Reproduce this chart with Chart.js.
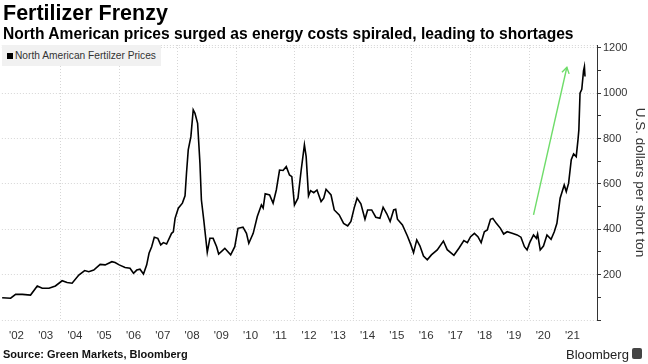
<!DOCTYPE html>
<html>
<head>
<meta charset="utf-8">
<script src="https://cdn.jsdelivr.net/npm/chart.js@4/dist/chart.umd.min.js"></script>
<style>
  body { margin: 0; background: #fff; }
  #wrap { position: relative; width: 648px; height: 364px; overflow: hidden;
          font-family: "Liberation Sans", Arial, sans-serif; color: #000; }
  #chart { position: absolute; left: 0; top: 0; }
  .txt { position: absolute; line-height: 1; white-space: nowrap; }
  .title { left: 3px; top: 3px; font-size: 21.5px; font-weight: bold; }
  .sub { left: 3px; top: 26px; font-size: 15.6px; font-weight: bold; }
  .source { left: 3px; top: 349px; font-size: 11px; font-weight: bold; color: #111; }
  .brand { left: 566px; top: 348px; font-size: 13px; color: #222; }
  .logo { position: absolute; left: 632px; top: 348px; width: 10px; height: 11px;
          background: #444; border-radius: 2px; }
  .legend { position: absolute; left: 2px; top: 45px; height: 21px; padding: 0 5px 0 5px;
            background: #f1f1f1; font-size: 10.2px; color: #333; line-height: 21px; }
  .legend i { display: inline-block; width: 6px; height: 6px; background: #000;
              margin-right: 2px; vertical-align: 0px; }
</style>
</head>
<body>
<div id="wrap">
  <canvas id="chart" width="648" height="364"></canvas>
  <div class="txt title">Fertilizer Frenzy</div>
  <div class="txt sub">North American prices surged as energy costs spiraled, leading to shortages</div>
  <div class="legend"><i></i>North American Fertilzer Prices</div>
  <div class="txt source">Source: Green Markets, Bloomberg</div>
  <div class="txt brand">Bloomberg</div>
  <div class="logo"></div>
</div>
<script>
// dates as decimal years, prices in U.S. dollars per short ton
const years = [
  2002.01, 2002.30, 2002.47, 2002.70, 2002.98, 2003.21, 2003.38, 2003.61, 2003.83, 2004.06,
  2004.23, 2004.40, 2004.63, 2004.83, 2004.97, 2005.14, 2005.36, 2005.53, 2005.76, 2005.87,
  2006.01, 2006.21, 2006.38, 2006.50, 2006.61, 2006.72, 2006.84, 2006.95, 2007.03, 2007.12,
  2007.21, 2007.33, 2007.43, 2007.52, 2007.63, 2007.80, 2007.86, 2007.92, 2008.03, 2008.17,
  2008.26, 2008.31, 2008.37, 2008.46, 2008.54, 2008.60, 2008.69, 2008.77, 2008.82, 2008.90,
  2009.02, 2009.11, 2009.22, 2009.34, 2009.41, 2009.62, 2009.82, 2009.96, 2010.07, 2010.24,
  2010.36, 2010.44, 2010.59, 2010.73, 2010.87, 2010.93, 2011.00, 2011.15, 2011.27, 2011.38,
  2011.49, 2011.61, 2011.72, 2011.83, 2011.91, 2012.00, 2012.12, 2012.23, 2012.34, 2012.40,
  2012.48, 2012.55, 2012.66, 2012.77, 2012.91, 2013.00, 2013.08, 2013.25, 2013.36, 2013.53,
  2013.68, 2013.82, 2013.93, 2014.04, 2014.14, 2014.27, 2014.41, 2014.50, 2014.64, 2014.78,
  2014.92, 2015.03, 2015.16, 2015.27, 2015.39, 2015.46, 2015.52, 2015.69, 2015.86, 2015.98,
  2016.07, 2016.18, 2016.29, 2016.41, 2016.54, 2016.68, 2016.88, 2017.09, 2017.22, 2017.45,
  2017.62, 2017.79, 2017.91, 2018.02, 2018.15, 2018.27, 2018.38, 2018.49, 2018.59, 2018.70,
  2018.78, 2018.90, 2019.04, 2019.15, 2019.27, 2019.44, 2019.61, 2019.74, 2019.86, 2019.95,
  2020.04, 2020.17, 2020.27, 2020.31, 2020.40, 2020.51, 2020.63, 2020.77, 2020.88, 2020.97,
  2021.08, 2021.22, 2021.29, 2021.37, 2021.46, 2021.54, 2021.63, 2021.69, 2021.72, 2021.76,
  2021.82, 2021.88, 2021.91, 2021.93
];
const prices = [
  98, 96, 113, 113, 110, 150, 140, 140, 150, 173,
  165, 162, 198, 218, 213, 220, 245, 243, 257, 253,
  243, 231, 228, 206, 220, 224, 203, 243, 294, 323,
  365, 360, 331, 341, 335, 382, 389, 448, 493, 515,
  547, 647, 750, 808, 926, 911, 867, 691, 529, 441,
  298, 360, 360, 323, 291, 316, 287, 323, 404, 409,
  382, 338, 382, 456, 507, 493, 556, 551, 515, 573,
  661, 659, 676, 639, 632, 507, 537, 661, 772, 720,
  547, 570, 561, 573, 522, 537, 576, 551, 485, 463,
  426, 415, 434, 493, 537, 512, 444, 485, 485, 453,
  448, 497, 467, 434, 485, 488, 444, 419, 370, 331,
  297, 353, 326, 282, 265, 287, 309, 348, 310, 285,
  316, 350, 341, 367, 382, 367, 341, 389, 397, 444,
  448, 426, 404, 379, 389, 382, 375, 365, 323, 309,
  341, 375, 360, 379, 309, 326, 375, 356, 389, 426,
  537, 595, 566, 603, 706, 732, 720, 794, 838, 1000,
  1017, 1099, 1117, 1073
];
// x labels sit in the middle of each year, grid lines every other year
const yearLabels = ["'02","'03","'04","'05","'06","'07","'08","'09","'10","'11",
                    "'12","'13","'14","'15","'16","'17","'18","'19","'20","'21"];
const labelYears = [2002.5, 2003.5, 2004.5, 2005.5, 2006.5, 2007.5, 2008.5, 2009.5, 2010.5, 2011.5,
                    2012.5, 2013.5, 2014.5, 2015.5, 2016.5, 2017.5, 2018.5, 2019.5, 2020.5, 2021.5];
const gridYears = [2004, 2006, 2008, 2010, 2012, 2014, 2016, 2018, 2020];
// green arrow drawn on the chart (start, end) in data units
const arrowFrom = [2020.17, 463];
const arrowTo = [2021.31, 1114];

const extras = {
  id: 'extras',
  beforeDatasetsDraw(chart) {
    const {ctx, chartArea: a, scales: {x}} = chart;
    ctx.save();
    ctx.strokeStyle = '#d6d6d6';
    ctx.lineWidth = 1;
    ctx.setLineDash([1, 2]);
    gridYears.forEach(yr => {
      const px = Math.round(x.getPixelForValue(yr)) + 0.5;
      ctx.beginPath(); ctx.moveTo(px, a.top); ctx.lineTo(px, a.bottom); ctx.stroke();
    });
    ctx.beginPath(); ctx.moveTo(a.left, a.top + 0.5); ctx.lineTo(a.right, a.top + 0.5); ctx.stroke();
    ctx.restore();
  },
  afterDatasetsDraw(chart) {
    const {ctx, scales: {x, y}} = chart;
    const x0 = x.getPixelForValue(arrowFrom[0]), y0 = y.getPixelForValue(arrowFrom[1]);
    const x1 = x.getPixelForValue(arrowTo[0]), y1 = y.getPixelForValue(arrowTo[1]);
    const ang = Math.atan2(y1 - y0, x1 - x0);
    ctx.save();
    ctx.strokeStyle = '#6fdc6a';
    ctx.lineWidth = 1.4;
    ctx.beginPath(); ctx.moveTo(x0, y0); ctx.lineTo(x1, y1); ctx.stroke();
    ctx.beginPath();
    ctx.moveTo(x1 - 7 * Math.cos(ang - 0.55), y1 - 7 * Math.sin(ang - 0.55));
    ctx.lineTo(x1, y1);
    ctx.lineTo(x1 - 7 * Math.cos(ang + 0.55), y1 - 7 * Math.sin(ang + 0.55));
    ctx.stroke();
    ctx.restore();
  }
};

new Chart(document.getElementById('chart'), {
  type: 'line',
  data: {
    datasets: [{
      label: 'North American Fertilzer Prices',
      data: years.map((v, i) => ({x: v, y: prices[i]})),
      borderColor: '#000',
      borderWidth: 1.6,
      pointRadius: 0,
      tension: 0,
      fill: false
    }]
  },
  options: {
    responsive: false,
    animation: false,
    layout: { padding: { top: 45, left: 0, right: 0, bottom: 20 } },
    plugins: { legend: { display: false }, tooltip: { enabled: false } },
    scales: {
      x: {
        type: 'linear',
        min: 2002,
        max: 2022.34,
        afterBuildTicks: s => { s.ticks = labelYears.map(v => ({value: v})); },
        afterFit: s => { s.height = 24; },
        grid: { display: false, drawTicks: false },
        border: { display: false },
        ticks: {
          autoSkip: false, maxRotation: 0, padding: 9,
          color: '#333', font: { family: 'Liberation Sans', size: 11.5 },
          callback: (v, i) => yearLabels[i]
        }
      },
      y: {
        position: 'right',
        min: 0,
        max: 1212,
        afterFit: s => { s.width = 51; },
        grid: {
          color: c => (c.tick && c.tick.value % 200 === 0) ? '#d6d6d6' : 'rgba(0,0,0,0)',
          tickColor: '#333',
          tickLength: 4,
          drawTicks: true
        },
        border: { display: true, color: '#333', width: 1, dash: [1, 2] },
        ticks: {
          stepSize: 100, includeBounds: false, padding: 2,
          color: '#333', font: { family: 'Liberation Sans', size: 11 },
          callback: v => (v > 0 && v % 200 === 0) ? String(v) : ''
        },
        title: {
          display: true, text: 'U.S. dollars per short ton', color: '#333',
          font: { family: 'Liberation Sans', size: 13.5 }, padding: 0
        }
      }
    }
  },
  plugins: [extras]
});
</script>
</body>
</html>
